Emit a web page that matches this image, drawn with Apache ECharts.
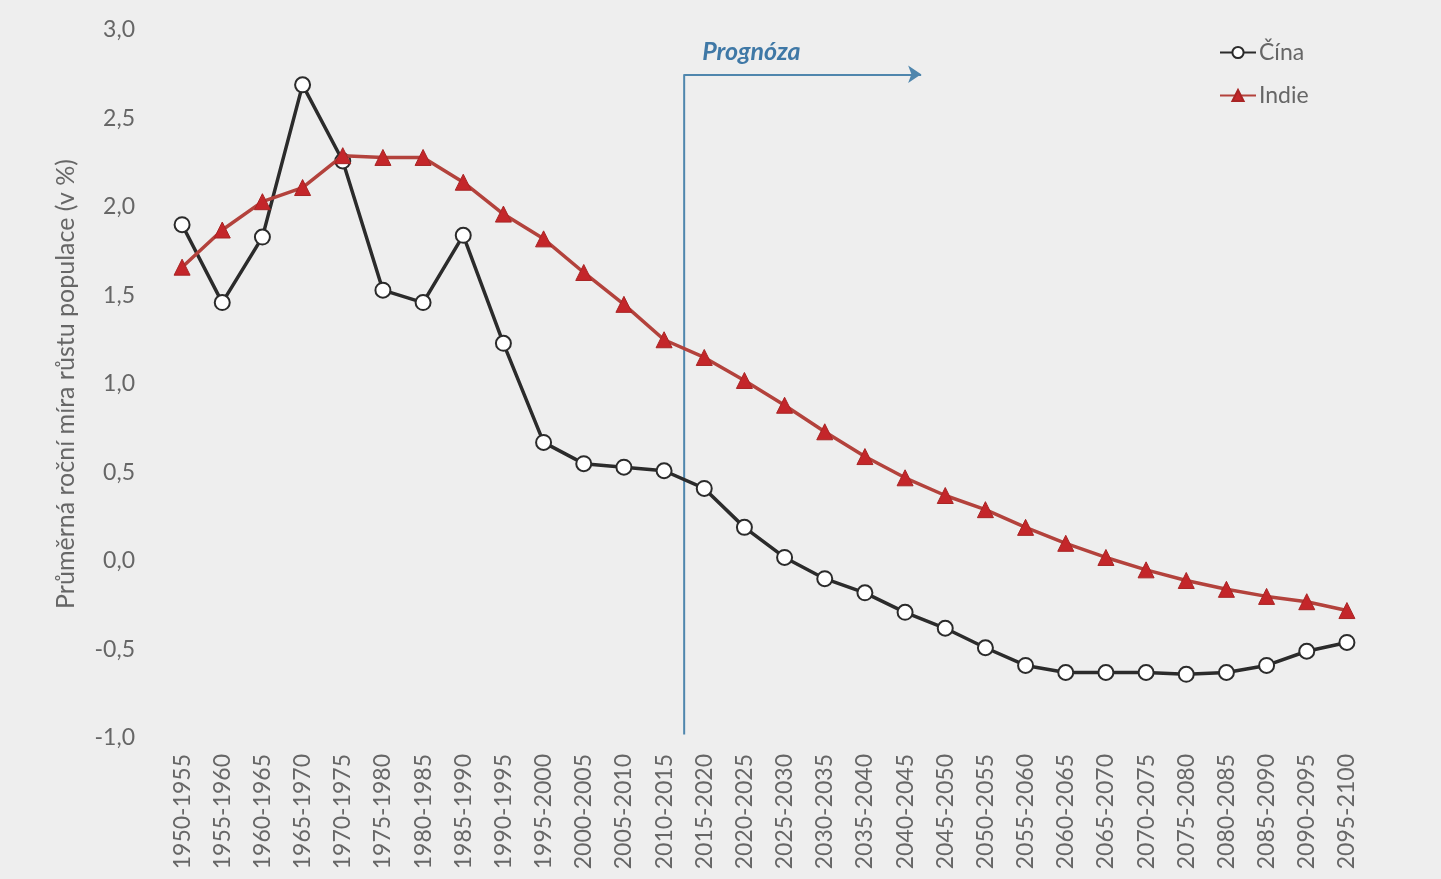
<!DOCTYPE html>
<html>
<head>
<meta charset="utf-8">
<script src="https://cdn.jsdelivr.net/npm/echarts@6/dist/echarts.min.js"></script>
<style>html,body{margin:0;padding:0;background:#eeeeee;}#c{width:1441px;height:879px;}</style>
</head>
<body>
<div id="c"></div>
<script>
const categories = ['1950-1955','1955-1960','1960-1965','1965-1970','1970-1975','1975-1980','1980-1985','1985-1990','1990-1995','1995-2000','2000-2005','2005-2010','2010-2015','2015-2020','2020-2025','2025-2030','2030-2035','2035-2040','2040-2045','2045-2050','2050-2055','2055-2060','2060-2065','2065-2070','2070-2075','2075-2080','2080-2085','2085-2090','2090-2095','2095-2100'];
const china = [1.90,1.46,1.83,2.69,2.26,1.53,1.46,1.84,1.23,0.67,0.55,0.53,0.51,0.41,0.19,0.02,-0.10,-0.18,-0.29,-0.38,-0.49,-0.59,-0.63,-0.63,-0.63,-0.64,-0.63,-0.59,-0.51,-0.46];
const india = [1.66,1.87,2.03,2.11,2.29,2.28,2.28,2.14,1.96,1.82,1.63,1.45,1.25,1.15,1.02,0.88,0.73,0.59,0.47,0.37,0.29,0.19,0.10,0.02,-0.05,-0.11,-0.16,-0.20,-0.23,-0.28];
const yTicks = {min: -1, max: 3, interval: 0.5};
const forecastStart = 12.5;   // boundary between 2010-2015 and 2015-2020
const forecastArrowEnd = 18.4;
const forecastTop = 2.75;
const forecastBottom = -0.98;

const chart = echarts.init(document.getElementById('c'));
const grey = '#666666';
chart.setOption({
  backgroundColor: '#eeeeee',
  animation: false,
  textStyle: {fontFamily: 'Lato, "Open Sans", sans-serif'},
  grid: {left: 162, right: 74, top: 30, bottom: 141},
  legend: {
    data: ['Čína', 'Indie'],
    orient: 'vertical',
    left: 1214, top: 36,
    itemWidth: 36, itemHeight: 14, itemGap: 20,
    textStyle: {fontSize: 23, color: grey, padding: [0,0,0,-2]}
  },
  xAxis: [{
    type: 'category',
    data: categories,
    boundaryGap: true,
    axisLine: {show: false},
    axisTick: {show: false},
    axisLabel: {rotate: 90, fontSize: 23, color: grey, margin: 16, interval: 0}
  }, {
    type: 'value', min: -0.5, max: 29.5, show: false
  }],
  yAxis: {
    type: 'value',
    min: yTicks.min, max: yTicks.max, interval: yTicks.interval,
    name: 'Průměrná roční míra růstu populace (v %)',
    nameLocation: 'middle', nameGap: 84, nameRotate: 90,
    nameTextStyle: {fontSize: 25, color: grey},
    axisLine: {show: false}, axisTick: {show: false},
    splitLine: {show: false},
    axisLabel: {fontSize: 23, color: grey, margin: 27, formatter: v => v.toFixed(1).replace('.', ',')}
  },
  series: [{
    name: 'Čína', type: 'line', data: china,
    symbol: 'circle', symbolSize: 15,
    lineStyle: {color: '#2b2b2b', width: 3.5},
    itemStyle: {color: '#ffffff', borderColor: '#2b2b2b', borderWidth: 2},
    z: 3
  }, {
    name: 'Indie', type: 'line', data: india,
    symbol: 'triangle', symbolSize: 16,
    lineStyle: {color: '#b3423c', width: 3.5},
    itemStyle: {color: '#c4262a', borderColor: '#a82424', borderWidth: 1},
    z: 4
  }, {
    name: 'forecast', type: 'line', xAxisIndex: 1,
    data: [[forecastStart, forecastBottom], [forecastStart, forecastTop]],
    symbol: 'none', lineStyle: {color: '#4f86ad', width: 2},
    silent: true, z: 2,
    markLine: {
      silent: true,
      symbol: ['none', 'arrow'], symbolSize: 13,
      lineStyle: {color: '#4f86ad', width: 2, type: 'solid'},
      label: {
        show: true, position: 'insideStartTop', formatter: 'Prognóza',
        fontSize: 25, fontStyle: 'italic', fontWeight: 'bold', color: '#3f78a6',
        distance: [18, 10]
      },
      data: [[{coord: [forecastStart, forecastTop]}, {coord: [forecastArrowEnd, forecastTop]}]]
    }
  }]
});
</script>
</body>
</html>
